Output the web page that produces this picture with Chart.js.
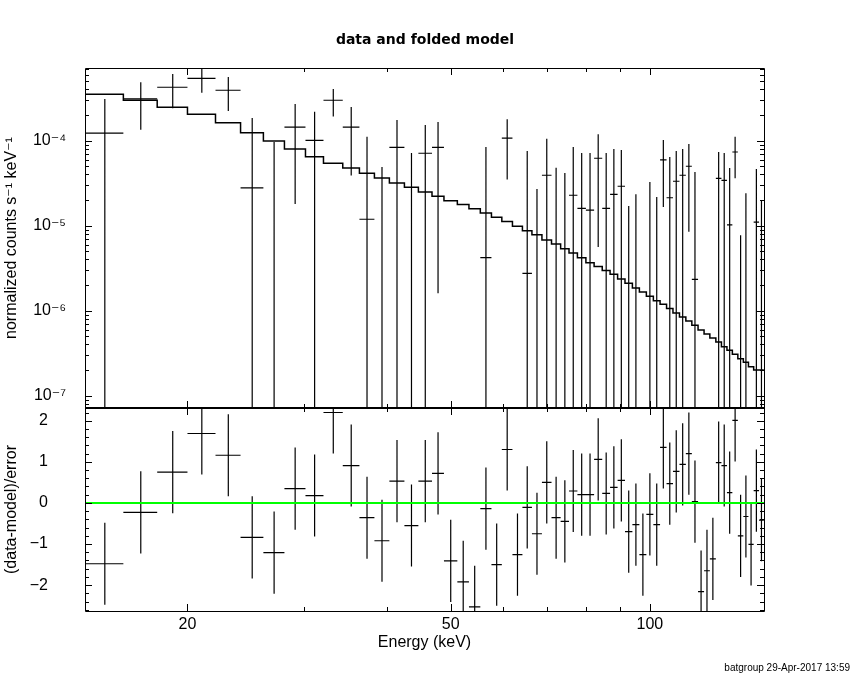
<!DOCTYPE html>
<html>
<head>
<meta charset="utf-8">
<title>data and folded model</title>
<script src="https://cdn.jsdelivr.net/npm/chart.js@4.4.1/dist/chart.umd.min.js"></script>
<style>
  html, body { margin: 0; padding: 0; background: #fff; }
  canvas { display: block; }
</style>
</head>
<body>
<canvas id="myChart" width="850" height="680"></canvas>
<script>
// channel edges (keV), one more than the number of channels
const binEdges = [14.0, 16.0, 18.0, 20.0, 22.05, 24.06, 26.05, 28.03, 30.16, 32.11,
  34.34, 36.39, 38.34, 40.39, 42.56, 44.68, 46.85, 48.84, 51.17, 53.28,
  55.43, 57.62, 59.74, 61.99, 64.18, 66.34, 68.69, 71.02, 73.31, 75.48,
  77.72, 80.05, 82.37, 84.73, 87.08, 89.39, 91.72, 94.11, 96.43, 98.80,
  101.24, 103.63, 106.0, 108.39, 110.87, 113.36, 115.75, 118.28, 120.78, 123.24,
  125.84, 128.31, 130.80, 133.28, 135.85, 138.48, 140.96, 143.54, 146.26, 148.72];

// normalized counts s^-1 keV^-1
const rate = [1.23e-4, 3.10e-4, 4.25e-4, 5.42e-4, 3.92e-4, 2.78e-5, -3.45e-5, 1.44e-4, 1.01e-4, 2.99e-4,
  1.44e-4, 1.19e-5, -4.7e-5, 8.36e-5, -1.70e-5, 7.11e-5, 8.36e-5, -8.9e-5, -1.28e-4, -1.72e-4,
  4.21e-6, -1.0e-4, 1.07e-4, -7.8e-5, 2.75e-6, -4.6e-5, 3.92e-5, -1.64e-5, -2.3e-5, 2.28e-5,
  1.60e-5, 1.52e-5, 6.21e-5, 1.60e-5, 2.34e-5, 2.91e-5, -3.2e-5, -2.19e-5, -5.7e-5, -1.04e-5,
  -2.14e-5, 5.93e-5, 2.13e-5, 3.33e-5, 3.92e-5, 5.0e-5, 2.34e-6, -8.6e-5, -6.5e-5, -5.4e-5,
  3.61e-5, 3.42e-5, 1.02e-5, 7.36e-5, -2.93e-5, -1.14e-5, -3.61e-5, 1.10e-5, -1.5e-5];

const rateErr = [1.87e-4, 1.76e-4, 1.85e-4, 1.75e-4, 1.69e-4, 1.57e-4, 1.31e-4, 1.26e-4, 1.18e-4, 1.06e-4,
  1.05e-4, 9.9e-5, 9.6e-5, 9.2e-5, 8.87e-5, 8.2e-5, 8.2e-5, 7.9e-5, 7.7e-5, 7.5e-5,
  8.0e-5, 7.6e-5, 7.2e-5, 7.1e-5, 7.3e-5, 7.3e-5, 6.6e-5, 6.45e-5, 6.47e-5, 6.15e-5,
  5.57e-5, 5.65e-5, 5.65e-5, 5.57e-5, 5.64e-5, 4.86e-5, 4.9e-5, 4.53e-5, 4.7e-5, 4.31e-5,
  4.32e-5, 4.27e-5, 4.3e-5, 4.24e-5, 4.06e-5, 4.15e-5, 4.05e-5, 4.0e-5, 4.0e-5, 4.0e-5,
  3.75e-5, 3.75e-5, 3.76e-5, 3.74e-5, 3.7e-5, 3.54e-5, 3.6e-5, 3.55e-5, 3.5e-5];

// folded model, one value per channel
const model = [3.95e-4, 3.52e-4, 2.99e-4, 2.47e-4, 2.05e-4, 1.62e-4, 1.24e-4, 9.92e-5, 7.98e-5, 6.48e-5,
  5.42e-5, 4.78e-5, 4.13e-5, 3.64e-5, 3.18e-5, 2.83e-5, 2.49e-5, 2.22e-5, 1.97e-5, 1.77e-5,
  1.58e-5, 1.41e-5, 1.26e-5, 1.12e-5, 9.84e-6, 8.73e-6, 7.83e-6, 6.79e-6, 6.09e-6, 5.36e-6,
  4.77e-6, 4.2e-6, 3.67e-6, 3.30e-6, 2.96e-6, 2.68e-6, 2.36e-6, 2.10e-6, 1.85e-6, 1.66e-6,
  1.48e-6, 1.31e-6, 1.19e-6, 1.06e-6, 9.4e-7, 8.44e-7, 7.57e-7, 6.73e-7, 5.93e-7, 5.32e-7,
  4.77e-7, 4.28e-7, 3.77e-7, 3.42e-7, 3.07e-7, 2.72e-7, 2.47e-7, 2.19e-7, 2.00e-7];

// (data-model)/error
const resid = [-1.48, -0.23, 0.75, 1.69, 1.16, -0.84, -1.21, 0.35, 0.18, 2.20,
  0.91, -0.36, -0.92, 0.53, -0.55, 0.53, 0.72, -1.41, -1.92, -2.53,
  -0.14, -1.50, 1.30, -1.26, -0.11, -0.75, 0.50, -0.36, -0.45, 0.29,
  0.20, 0.20, 1.06, 0.23, 0.38, 0.55, -0.70, -0.53, -1.26, -0.28,
  -0.53, 1.35, 0.47, 0.77, 0.94, 1.20, 0.03, -2.16, -1.65, -1.36,
  0.98, 0.91, 0.25, 2.01, -0.80, -0.33, -1.01, 0.30, -0.42];

const xRange = [14.0, 148.8];
const rateRange = [7.16e-8, 7.16e-4];
const residRange = [-2.63, 2.31];

const xLabelTicks = [20, 50, 100];
const xMinorTicks = [30, 40, 60, 70, 80, 90];
const rateLabelTicks = [1e-7, 1e-6, 1e-5, 1e-4];
const residLabelTicks = [-2, -1, 0, 1, 2];

const FONT = "'Liberation Sans', 'DejaVu Sans', sans-serif";
Chart.defaults.font.family = FONT;
Chart.defaults.color = '#000';

const supDigits = {'-': '\u207B', '0': '\u2070', '1': '\u00B9', '2': '\u00B2', '3': '\u00B3',
  '4': '\u2074', '5': '\u2075', '6': '\u2076', '7': '\u2077', '8': '\u2078', '9': '\u2079'};
function powLabel(v) {
  const p = String(Math.round(Math.log10(v)));
  return '10' + p.split('').map(c => supDigits[c]).join('');
}

// crosses: horizontal bar over the channel, vertical bar for the error
const dataCrosses = [];
const residCrosses = [];
for (let i = 0; i < rate.length; i++) {
  const lo = binEdges[i], hi = binEdges[i + 1], mid = (lo + hi) / 2;
  const d = rate[i], e = rateErr[i];
  if (d > rateRange[0] && d < rateRange[1]) {
    dataCrosses.push({x: lo, y: d}, {x: hi, y: d}, {x: mid, y: null});
  }
  const up = Math.min(d + e, rateRange[1]);
  if (up > rateRange[0]) {
    dataCrosses.push({x: mid, y: Math.max(d - e, rateRange[0])}, {x: mid, y: up}, {x: mid, y: null});
  }
  const r = resid[i];
  residCrosses.push({x: lo, y: r}, {x: hi, y: r}, {x: mid, y: null},
    {x: mid, y: Math.max(r - 1, residRange[0])}, {x: mid, y: Math.min(r + 1, residRange[1])}, {x: mid, y: null});
}

const modelSteps = binEdges.map((e, i) => ({x: e, y: model[Math.min(i, model.length - 1)]}));

// frame and inward tick marks of both panels
const framePlugin = {
  id: 'frame',
  afterDatasetsDraw(chart) {
    const {ctx, scales: {x, y, y2}} = chart;
    const L = x.left, R = x.right;
    const T = Math.min(y.top, y2.top), B = Math.max(y.bottom, y2.bottom);
    const px = v => Math.round(v) + 0.5;
    ctx.save();
    ctx.strokeStyle = '#000';
    ctx.lineWidth = 1;
    ctx.beginPath();
    ctx.rect(px(L), px(T), Math.round(R - L), Math.round(B - T));
    ctx.stroke();
    ctx.lineWidth = 2;
    ctx.beginPath();
    ctx.moveTo(L, Math.round(y.bottom));
    ctx.lineTo(R, Math.round(y.bottom));
    ctx.stroke();
    ctx.lineWidth = 1;
    ctx.beginPath();
    const hTick = (v, len) => {
      const xx = px(x.getPixelForValue(v));
      [[y.top, 1], [y.bottom, -1], [y2.top, 1], [y2.bottom, -1]].forEach(([yy, dir]) => {
        ctx.moveTo(xx, yy);
        ctx.lineTo(xx, yy + dir * len);
      });
    };
    xLabelTicks.forEach(v => hTick(v, 7));
    xMinorTicks.forEach(v => hTick(v, 4));
    const vTick = (scale, v, len) => {
      const yy = px(scale.getPixelForValue(v));
      ctx.moveTo(L, yy); ctx.lineTo(L + len, yy);
      ctx.moveTo(R, yy); ctx.lineTo(R - len, yy);
    };
    rateLabelTicks.forEach(v => vTick(y, v, 7));
    for (let p = -8; p <= -4; p++) {
      for (let m = 2; m <= 9; m++) {
        const v = m * Math.pow(10, p);
        if (v > rateRange[0] && v < rateRange[1]) vTick(y, v, 4);
      }
    }
    residLabelTicks.forEach(v => vTick(y2, v, 7));
    for (let k = -13; k <= 11; k++) {
      if (k % 5 !== 0) vTick(y2, k * 0.2, 4);
    }
    ctx.stroke();
    ctx.restore();
  }
};

const hidden = {display: false, drawTicks: false};

new Chart(document.getElementById('myChart'), {
  type: 'line',
  data: {
    datasets: [
      {
        data: [{x: xRange[0], y: 0}, {x: xRange[1], y: 0}],
        yAxisID: 'y2', borderColor: '#00ff00', borderWidth: 2, pointRadius: 0
      },
      {
        data: residCrosses, yAxisID: 'y2', borderColor: '#000', borderWidth: 1.2,
        pointRadius: 0, spanGaps: false
      },
      {
        data: dataCrosses, yAxisID: 'y', borderColor: '#000', borderWidth: 1.2,
        pointRadius: 0, spanGaps: false
      },
      {
        data: modelSteps, yAxisID: 'y', borderColor: '#000', borderWidth: 1.5,
        pointRadius: 0, stepped: 'after'
      }
    ]
  },
  options: {
    responsive: false,
    animation: false,
    events: [],
    plugins: {
      legend: {display: false},
      tooltip: {enabled: false},
      title: {
        display: true, text: 'data and folded model', color: '#000',
        font: {family: "'DejaVu Sans', sans-serif", size: 14, weight: 'bold', lineHeight: 1.2},
        padding: {top: 32, bottom: 19.2}
      },
      subtitle: {
        display: true, text: 'batgroup 29-Apr-2017 13:59', position: 'bottom', align: 'end',
        color: '#000', font: {size: 10, lineHeight: 1.2}, padding: {top: 6, bottom: 6}
      }
    },
    scales: {
      x: {
        type: 'logarithmic', position: 'bottom', min: xRange[0], max: xRange[1],
        grid: hidden, border: {display: false},
        afterBuildTicks: s => { s.ticks = xLabelTicks.map(v => ({value: v})); },
        ticks: {autoSkip: false, maxRotation: 0, padding: 4, font: {size: 16}, color: '#000',
          callback: v => String(v)},
        title: {display: true, text: 'Energy (keV)', color: '#000', font: {size: 16}, padding: {top: 0, bottom: 3.4}},
        afterFit: s => { s.height = 45; }
      },
      // residual panel first: stacked left scales are laid out last-defined on top
      y2: {
        type: 'linear', position: 'left', stack: 'panels', stackWeight: 203,
        min: residRange[0], max: residRange[1],
        grid: hidden, border: {display: false},
        afterBuildTicks: s => { s.ticks = residLabelTicks.map(v => ({value: v})); },
        ticks: {autoSkip: false, padding: 37, font: {size: 16}, color: '#000',
          callback: v => (v < 0 ? '\u2212' + Math.abs(v) : String(v))},
        title: {display: true, text: '(data-model)/error', color: '#000', font: {size: 16}, padding: {top: 2, bottom: 0}},
        afterFit: s => { s.width = 85; }
      },
      y: {
        type: 'logarithmic', position: 'left', stack: 'panels', stackWeight: 340,
        min: rateRange[0], max: rateRange[1],
        grid: hidden, border: {display: false},
        afterBuildTicks: s => { s.ticks = rateLabelTicks.map(v => ({value: v})); },
        ticks: {autoSkip: false, padding: 19, font: {size: 16}, color: '#000', callback: v => powLabel(v)},
        title: {display: true, text: 'normalized counts s\u207B\u00B9 keV\u207B\u00B9', color: '#000',
          font: {size: 16}, padding: {top: 2, bottom: 0}},
        afterFit: s => { s.width = 85; }
      },
      yR: {
        type: 'linear', position: 'right', display: false,
        afterFit: s => { s.width = 86; }
      }
    }
  },
  plugins: [framePlugin]
});
</script>
</body>
</html>
